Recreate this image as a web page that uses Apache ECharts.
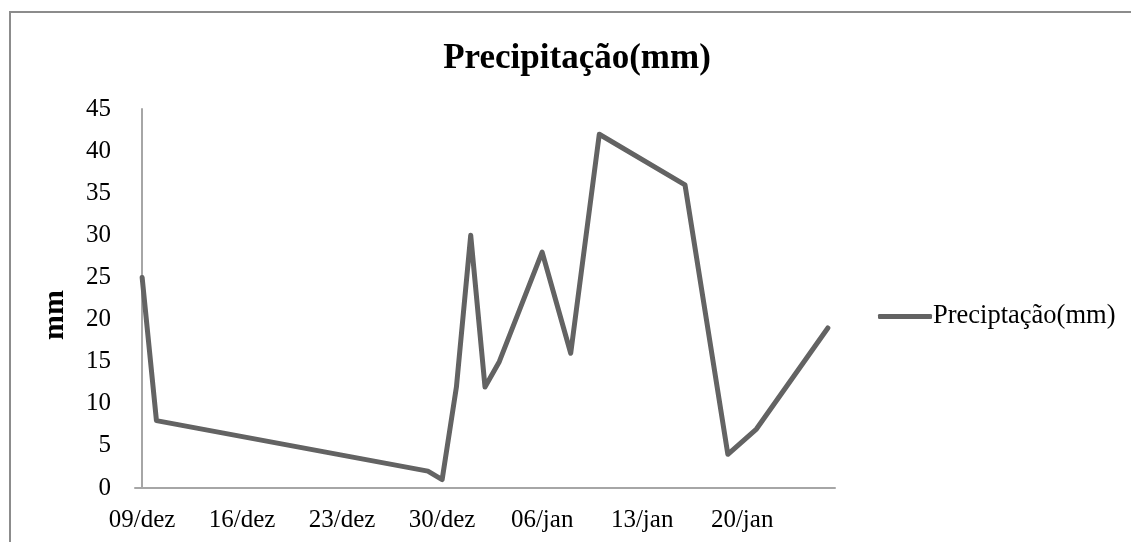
<!DOCTYPE html>
<html>
<head>
<meta charset="utf-8">
<title>Precipitação(mm)</title>
<script src="https://cdn.jsdelivr.net/npm/echarts@6/dist/echarts.min.js"></script>
<style>
  html, body { margin: 0; padding: 0; background: #fff; }
  #chart { width: 1131px; height: 542px; }
</style>
</head>
<body>
<div id="chart"></div>
<script>
// dates of the readings (dd/mmm) and rainfall in mm
const dates = ['09/dez', '10/dez', '29/dez', '30/dez', '31/dez', '01/jan', '02/jan', '03/jan',
  '06/jan', '08/jan', '10/jan', '16/jan', '19/jan', '21/jan', '26/jan'];
const rain = [25, 8, 2, 1, 12, 30, 12, 15, 28, 16, 42, 36, 4, 7, 19];
const tickLabels = ['09/dez', '16/dez', '23/dez', '30/dez', '06/jan', '13/jan', '20/jan'];
const yTicks = [0, 5, 10, 15, 20, 25, 30, 35, 40, 45];

// days counted from 09/dez (dez is the first month, jan the next one)
function dayOf(s) {
  const d = parseInt(s.slice(0, 2), 10);
  return s.slice(3) === 'dez' ? d - 9 : 31 - 9 + d;
}

const seriesData = dates.map((s, i) => [dayOf(s), rain[i]]);
const tickDays = tickLabels.map(dayOf);
const labelByDay = {};
tickLabels.forEach(s => { labelByDay[dayOf(s)] = s; });

const font = 'Liberation Serif, Times New Roman, serif';
const axisGrey = '#a6a6a6';
const lineGrey = '#636363';

const chart = echarts.init(document.getElementById('chart'));
chart.setOption({
  animation: false,
  textStyle: { fontFamily: font, color: '#000' },
  title: {
    text: 'Precipitação(mm)',
    left: 572,
    top: 36,
    textAlign: 'center',
    textStyle: { fontFamily: font, fontSize: 35, fontWeight: 'bold', color: '#000' }
  },
  graphic: [{
    type: 'rect',
    shape: { x: 10, y: 12, width: 1300, height: 700 },
    style: { fill: null, stroke: '#8c8c8c', lineWidth: 2 },
    silent: true
  }, {
    // y axis title, sits a little below the middle of the axis like the original
    type: 'text',
    x: 55,
    y: 315,
    rotation: Math.PI / 2,
    style: {
      text: 'mm',
      font: 'bold 30px ' + font,
      fill: '#000',
      align: 'center',
      verticalAlign: 'middle'
    },
    silent: true
  }],
  legend: {
    left: 873,
    top: 298,
    itemWidth: 54,
    itemHeight: 5,
    itemGap: 0,
    icon: 'roundRect',
    itemStyle: { color: lineGrey },
    textStyle: { fontFamily: font, fontSize: 26.5, color: '#000', padding: [0, 0, 0, -4] },
    data: ['Preciptação(mm)']
  },
  grid: { left: 135, right: 296, top: 109, bottom: 54 },
  xAxis: {
    type: 'value',
    min: -0.5,
    max: 48.5,
    splitLine: { show: false },
    axisLine: { show: true, lineStyle: { color: axisGrey, width: 2 } },
    axisTick: { show: false },
    axisLabel: {
      customValues: tickDays,
      formatter: v => labelByDay[v] || '',
      fontFamily: font,
      fontSize: 25,
      color: '#000',
      margin: 20
    }
  },
  yAxis: {
    type: 'value',
    min: 0,
    max: 45,
    interval: 5,
    splitLine: { show: false },
    axisLine: { show: true, lineStyle: { color: axisGrey, width: 2 } },
    axisTick: { show: false },
    axisLabel: {
      customValues: yTicks,
      fontFamily: font,
      fontSize: 25,
      color: '#000',
      margin: 24
    }
  },
  series: [{
    name: 'Preciptação(mm)',
    type: 'line',
    data: seriesData,
    symbol: 'none',
    lineStyle: { color: lineGrey, width: 5, cap: 'round', join: 'round' },
    itemStyle: { color: lineGrey }
  }]
});
</script>
</body>
</html>
